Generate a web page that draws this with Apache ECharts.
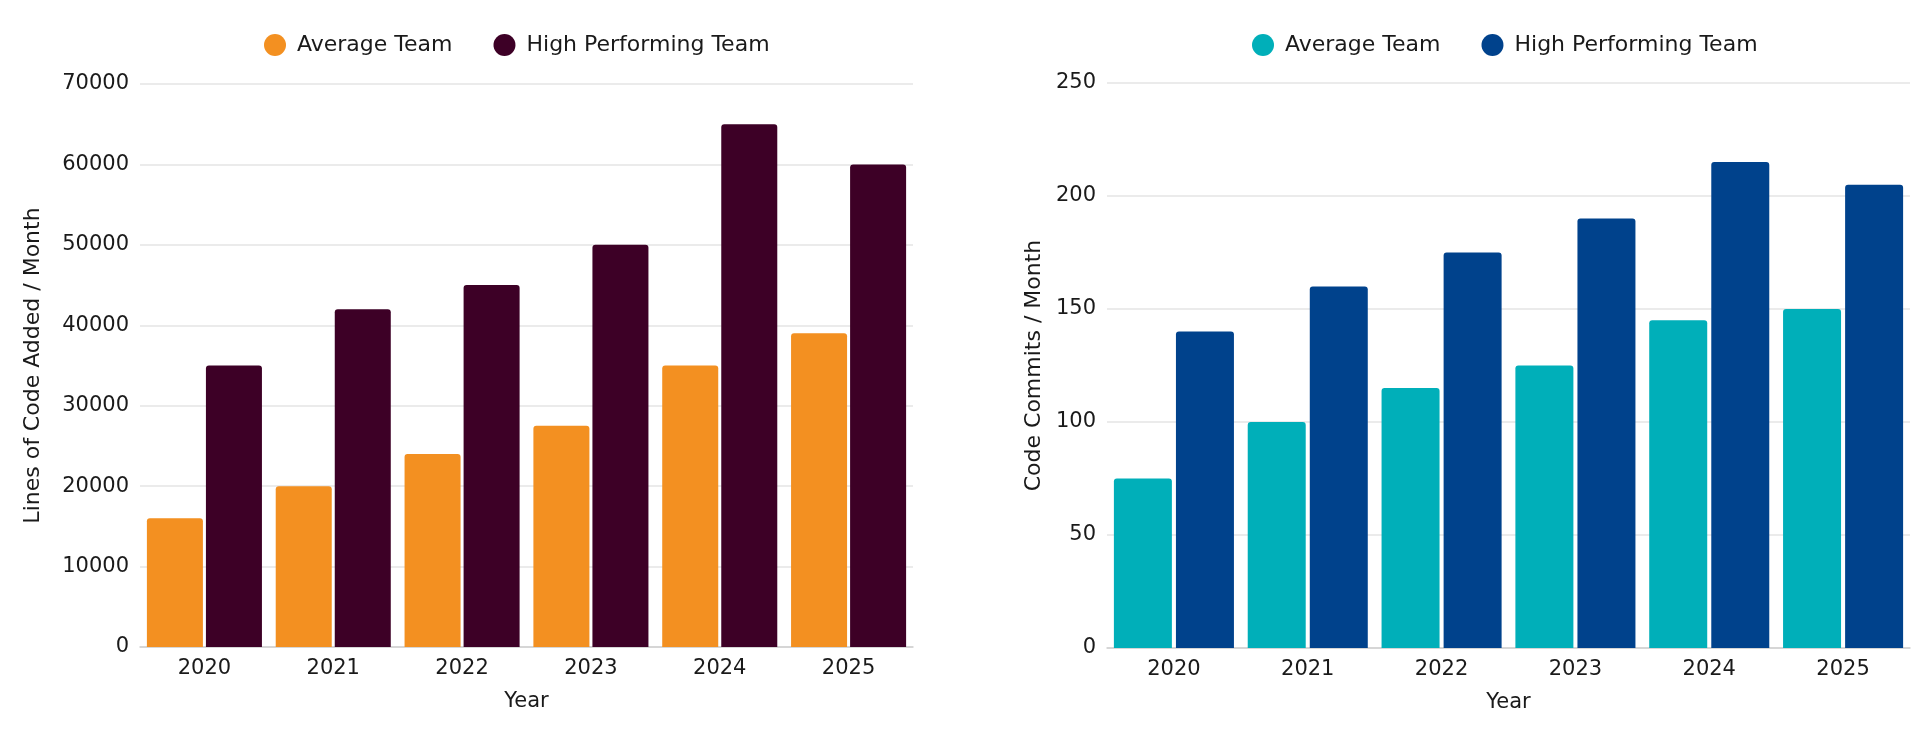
<!DOCTYPE html>
<html>
<head>
    <meta charset="utf-8">
    <title>Team Output</title>
    <style>
        html, body { margin: 0; padding: 0; background: #fff; }
        #left { position: absolute; left: 0; top: 0; width: 960px; height: 732px; }
        #right { position: absolute; left: 960px; top: 0; width: 965px; height: 732px; }
    </style>
</head>
<body>

<div id="left"></div>
<div id="right"></div>

<script src="https://cdn.jsdelivr.net/npm/echarts@6/dist/echarts.min.js"></script>
<script>

    var years = ['2020', '2021', '2022', '2023', '2024', '2025'];
    var seriesNames = ['Average Team', 'High Performing Team'];

    // lines of code added per month
    var locAverage = [16000, 20000, 24000, 27500, 35000, 39000];
    var locHigh = [35000, 42000, 45000, 50000, 65000, 60000];

    // code commits per month
    var commitsAverage = [75, 100, 115, 125, 145, 150];
    var commitsHigh = [140, 160, 175, 190, 215, 205];

    var fontFamily = '"DejaVu Sans", sans-serif';
    var textColor = '#1a1a1a';

    function buildOption(cfg) {
        return {
            backgroundColor: '#FFFFFF',
            textStyle: { fontFamily: fontFamily },
            legend: {
                left: cfg.legendLeft,
                top: 29,
                icon: 'circle',
                itemWidth: 22,
                itemHeight: 22,
                itemGap: 41,
                data: seriesNames,
                textStyle: {
                    fontFamily: fontFamily,
                    fontSize: 22,
                    color: textColor,
                    padding: [0, 0, 0, 6]
                }
            },
            grid: cfg.grid,
            xAxis: {
                type: 'category',
                data: years,
                name: 'Year',
                nameLocation: 'middle',
                nameGap: 44,
                nameTextStyle: { fontSize: 21, color: textColor, fontFamily: fontFamily },
                axisTick: { show: false },
                axisLine: { lineStyle: { color: '#d0d0d0', width: 1.5 } },
                axisLabel: { fontSize: 21, color: textColor, margin: 11, fontFamily: fontFamily }
            },
            yAxis: {
                type: 'value',
                min: 0,
                max: cfg.max,
                interval: cfg.interval,
                name: cfg.yName,
                nameLocation: 'middle',
                nameGap: cfg.nameGap,
                nameTextStyle: { fontSize: 22, color: textColor, fontFamily: fontFamily },
                axisLabel: {
                    fontSize: 21,
                    color: textColor,
                    margin: 11,
                    fontFamily: fontFamily,
                    formatter: function (v) { return String(v); }
                },
                splitLine: { lineStyle: { color: '#e4e4e4', width: 1.5 } }
            },
            series: [{
                name: seriesNames[0],
                type: 'bar',
                data: cfg.average,
                barGap: cfg.barGap,
                barCategoryGap: cfg.barCategoryGap,
                itemStyle: { color: cfg.colors[0], borderRadius: [3, 3, 0, 0] }
            }, {
                name: seriesNames[1],
                type: 'bar',
                data: cfg.high,
                itemStyle: { color: cfg.colors[1], borderRadius: [3, 3, 0, 0] }
            }]
        };
    }

    var leftChart = echarts.init(document.getElementById('left'));
    leftChart.setOption(buildOption({
        legendLeft: 259,
        grid: { left: 140, right: 47, top: 84, bottom: 85 },
        max: 70000,
        interval: 10000,
        yName: 'Lines of Code Added / Month',
        nameGap: 96,
        barGap: '5.4%',
        barCategoryGap: '10.7%',
        average: locAverage,
        high: locHigh,
        colors: ['#F39021', '#3D0026']
    }));

    var rightChart = echarts.init(document.getElementById('right'));
    rightChart.setOption(buildOption({
        legendLeft: 287,
        grid: { left: 147, right: 15, top: 83, bottom: 84 },
        max: 250,
        interval: 50,
        yName: 'Code Commits / Month',
        nameGap: 55,
        barGap: '7%',
        barCategoryGap: '10.3%',
        average: commitsAverage,
        high: commitsHigh,
        colors: ['#00AFB9', '#00428C']
    }));

</script>
</body>
</html>
